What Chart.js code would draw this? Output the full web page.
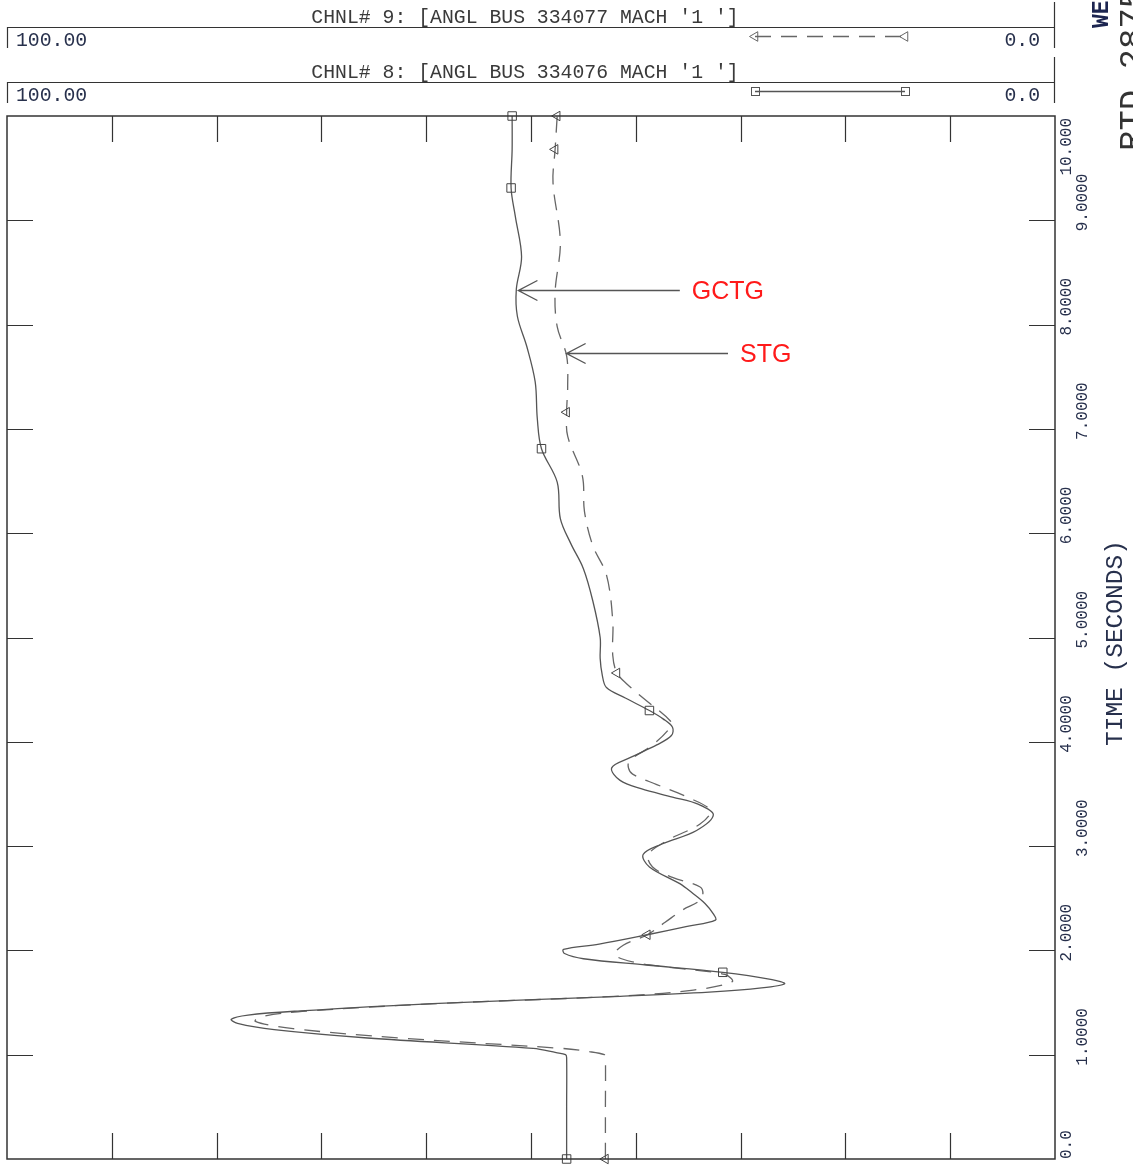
<!DOCTYPE html>
<html>
<head>
<meta charset="utf-8">
<title>ANGL BUS 334076 / 334077</title>
<script src="https://cdn.jsdelivr.net/npm/chart.js@4.4.1/dist/chart.umd.min.js"></script>
<style>
  html, body { margin: 0; padding: 0; background: #fff; }
  #wrap { width: 1133px; height: 1166px; }
</style>
</head>
<body>
<div id="wrap"><canvas id="anglChart" width="1133" height="1166"></canvas></div>
<script>
// Channel 8 - GCTG machine angle (solid, squares)
const gctgTime = [0, 0.5, 0.97, 1.0, 1.02, 1.06, 1.16, 1.24, 1.30, 1.34, 1.38, 1.42, 1.49, 1.56, 1.60, 1.64, 1.68, 1.72, 1.79, 1.86, 1.92, 1.97, 2.01, 2.06, 2.15, 2.23, 2.29, 2.35, 2.45, 2.55, 2.64, 2.80, 2.92, 3.02, 3.15, 3.30, 3.40, 3.47, 3.55, 3.63, 3.75, 3.85, 3.97, 4.06, 4.14, 4.22, 4.30, 4.42, 4.52, 4.64, 4.80, 5.00, 5.35, 5.66, 5.90, 6.14, 6.49, 6.81, 7.10, 7.45, 7.79, 8.08, 8.34, 8.65, 9.04, 9.31, 9.68, 10.0];
const gctgAngle = [46.6, 46.6, 46.6, 46.7, 47.6, 49.8, 65.6, 74.5, 78.0, 78.6, 77.0, 72.0, 59.4, 41.5, 33.0, 28.0, 25.8, 27.0, 31.7, 39.0, 45.0, 46.8, 46.9, 43.5, 38.9, 35.1, 32.4, 32.6, 33.4, 34.6, 35.8, 38.7, 39.3, 37.5, 34.2, 32.6, 34.0, 36.5, 39.5, 41.5, 42.3, 40.5, 38.0, 36.6, 36.5, 37.4, 38.7, 41.0, 42.8, 43.2, 43.4, 43.4, 44.1, 45.0, 46.2, 47.2, 47.5, 49.0, 49.4, 49.6, 50.4, 51.3, 51.4, 50.9, 51.5, 51.9, 51.8, 51.8];
const gctgMarks = [0, 1.79, 4.30, 6.81, 9.31, 10.0];

// Channel 9 - STG machine angle (dashed, triangles)
const stgTime = [0, 0.5, 0.97, 1.0, 1.03, 1.06, 1.16, 1.25, 1.32, 1.37, 1.42, 1.49, 1.56, 1.62, 1.70, 1.77, 1.84, 1.89, 1.96, 2.05, 2.15, 2.27, 2.39, 2.47, 2.54, 2.61, 2.70, 2.80, 2.92, 3.07, 3.21, 3.34, 3.47, 3.59, 3.69, 3.75, 3.82, 3.97, 4.14, 4.20, 4.42, 4.55, 4.66, 4.83, 5.16, 5.60, 5.88, 6.21, 6.55, 6.93, 7.16, 7.41, 7.70, 7.98, 8.31, 8.79, 9.36, 9.68, 10.0];
const stgAngle = [42.9, 42.9, 42.9, 43.0, 44.5, 47.0, 62.5, 72.7, 76.3, 75.5, 71.0, 59.0, 42.0, 34.5, 30.8, 31.5, 37.0, 40.3, 42.0, 41.2, 38.9, 37.2, 35.5, 34.0, 33.6, 33.9, 36.5, 38.4, 38.8, 36.7, 33.9, 32.9, 35.1, 38.0, 40.3, 40.7, 40.6, 38.4, 36.7, 36.7, 39.3, 40.8, 41.8, 42.2, 42.2, 42.8, 44.1, 44.9, 45.1, 46.5, 46.6, 46.5, 46.6, 47.5, 47.7, 47.2, 47.9, 47.7, 47.5];
const stgMarks = [0, 2.15, 4.66, 7.16, 9.68, 10.0];

// axes
const angleMin = 0, angleMax = 100;
const timeMin = 0, timeMax = 10;
const angleTicks = [10, 20, 30, 40, 50, 60, 70, 80, 90];
const timeTicks = [0, 1, 2, 3, 4, 5, 6, 7, 8, 9, 10];
const timeTickLabels = ['0.0', '1.0000', '2.0000', '3.0000', '4.0000', '5.0000', '6.0000', '7.0000', '8.0000', '9.0000', '10.000'];
const timeTitle = 'TIME (SECONDS)';

// channel headers (top panels)
const channelTitles = ["CHNL# 9: [ANGL BUS 334077 MACH '1 ']", "CHNL# 8: [ANGL BUS 334076 MACH '1 ']"];
const channelScaleMax = '100.00';
const channelScaleMin = '0.0';

// arrow callouts
const arrowLabels = ['GCTG', 'STG'];
const arrowTime = [8.33, 7.73];
const arrowTip = [51.2, 46.6];
const arrowTail = [35.8, 31.2];

const MONO = '"Liberation Mono", "DejaVu Sans Mono", monospace';
const TEXT_BLUE = '#27304c';

function toPoints(times, values) {
    return times.map((t, i) => ({ x: values[i], y: t }));
}
function markRadius(times, marks, r) {
    return times.map(t => marks.includes(t) ? r : 0);
}

function drawTriangle(ctx, x, y, r) {
    // pointing left
    ctx.beginPath();
    ctx.moveTo(x - r, y);
    ctx.lineTo(x + r * 0.5, y - r * 0.87);
    ctx.lineTo(x + r * 0.5, y + r * 0.87);
    ctx.closePath();
    ctx.stroke();
}

function rotText(ctx, text, x, y, font, color, baseline) {
    ctx.save();
    ctx.translate(x, y);
    ctx.rotate(-Math.PI / 2);
    ctx.font = font;
    ctx.fillStyle = color;
    ctx.textAlign = 'left';
    ctx.textBaseline = baseline || 'middle';
    ctx.fillText(text, 0, 0);
    ctx.restore();
}

const whiteBg = {
    id: 'whiteBg',
    beforeDraw(chart) {
        const ctx = chart.ctx;
        ctx.save();
        ctx.fillStyle = '#fff';
        ctx.fillRect(0, 0, chart.width, chart.height);
        ctx.restore();
    }
};

const pssFrame = {
    id: 'pssFrame',
    afterDraw(chart) {
        const ctx = chart.ctx;
        const a = chart.chartArea;
        const xs = chart.scales.x;
        const ys = chart.scales.y;
        ctx.save();

        // plot frame
        ctx.strokeStyle = '#333';
        ctx.lineWidth = 1.5;
        ctx.strokeRect(a.left, a.top, a.right - a.left, a.bottom - a.top);

        // inner ticks
        ctx.lineWidth = 1.2;
        ctx.beginPath();
        angleTicks.forEach(v => {
            const x = Math.round(xs.getPixelForValue(v)) + 0.5;
            ctx.moveTo(x, a.top); ctx.lineTo(x, a.top + 26);
            ctx.moveTo(x, a.bottom); ctx.lineTo(x, a.bottom - 26);
        });
        timeTicks.slice(1, -1).forEach(t => {
            const y = Math.round(ys.getPixelForValue(t)) + 0.5;
            ctx.moveTo(a.left, y); ctx.lineTo(a.left + 26, y);
            ctx.moveTo(a.right, y); ctx.lineTo(a.right - 26, y);
        });
        ctx.stroke();

        // time tick labels, rotated, staggered in two columns
        ctx.font = '16px ' + MONO;
        timeTicks.forEach((t, i) => {
            const label = timeTickLabels[i];
            const w = ctx.measureText(label).width;
            const y = ys.getPixelForValue(t);
            let bottom = Math.min(y + 11, a.bottom);
            if (bottom - w < a.top + 2) bottom = a.top + 2 + w;
            const x = (i % 2 === 0) ? a.right + 12 : a.right + 28;
            rotText(ctx, label, x, bottom, '16px ' + MONO, TEXT_BLUE);
        });
        rotText(ctx, timeTitle, a.right + 61, 746, '24.5px ' + MONO, TEXT_BLUE);

        // clipped page labels on the far right
        rotText(ctx, 'WECC', 1108, 28, 'bold 23px ' + MONO, '#1c2550', 'alphabetic');
        rotText(ctx, 'RTD 2875', 1142, 151, '34px ' + MONO, '#333', 'alphabetic');

        // channel header panels
        channelTitles.forEach((title, p) => {
            const off = p * 55;
            const ds = chart.data.datasets[p === 0 ? 1 : 0];
            ctx.strokeStyle = '#333';
            ctx.lineWidth = 1.2;
            ctx.setLineDash([]);
            ctx.beginPath();
            ctx.moveTo(a.left, 27.5 + off); ctx.lineTo(a.right, 27.5 + off);
            ctx.moveTo(a.left + 0.5, 27 + off); ctx.lineTo(a.left + 0.5, 48 + off);
            ctx.moveTo(a.right - 0.5, (p === 0 ? 2 : 57)); ctx.lineTo(a.right - 0.5, 48 + off);
            ctx.stroke();

            ctx.fillStyle = '#3a3a3a';
            ctx.font = '19.8px ' + MONO;
            ctx.textAlign = 'center';
            ctx.textBaseline = 'alphabetic';
            ctx.fillText(title, 525, 23 + off);

            ctx.fillStyle = TEXT_BLUE;
            ctx.textAlign = 'left';
            ctx.fillText(channelScaleMax, 16, 46 + off);
            ctx.textAlign = 'right';
            ctx.fillText(channelScaleMin, 1040, 46 + off);

            // legend sample
            const ly = 36.5 + off;
            ctx.strokeStyle = ds.borderColor;
            ctx.lineWidth = ds.borderWidth;
            ctx.setLineDash(ds.borderDash || []);
            ctx.beginPath();
            ctx.moveTo(755, ly); ctx.lineTo(905, ly);
            ctx.stroke();
            ctx.setLineDash([]);
            ctx.lineWidth = 1;
            if (ds.pointStyle === 'rect') {
                ctx.strokeRect(751.5, ly - 4, 8, 8);
                ctx.strokeRect(901.5, ly - 4, 8, 8);
            } else {
                drawTriangle(ctx, 755, ly, 5.5);
                drawTriangle(ctx, 905, ly, 5.5);
            }
        });

        // arrow callouts
        arrowLabels.forEach((label, i) => {
            const y = Math.round(ys.getPixelForValue(arrowTime[i])) + 0.5;
            const xt = xs.getPixelForValue(arrowTip[i]);
            const xe = xs.getPixelForValue(arrowTail[i]);
            ctx.strokeStyle = '#555';
            ctx.lineWidth = 1.4;
            ctx.beginPath();
            ctx.moveTo(xe, y); ctx.lineTo(xt, y);
            ctx.moveTo(xt + 19, y - 10); ctx.lineTo(xt, y); ctx.lineTo(xt + 19, y + 10);
            ctx.stroke();
            ctx.fillStyle = '#ff1a1a';
            ctx.font = '25px "Liberation Sans", Arial, sans-serif';
            ctx.textAlign = 'left';
            ctx.textBaseline = 'middle';
            ctx.fillText(label, xe + 12, y + 2);
        });

        ctx.restore();
    }
};

const canvas = document.getElementById('anglChart');
new Chart(canvas, {
    type: 'scatter',
    data: {
        datasets: [{
            label: 'GCTG',
            data: toPoints(gctgTime, gctgAngle),
            showLine: true,
            borderColor: '#555',
            borderWidth: 1.3,
            tension: 0.35,
            pointStyle: 'rect',
            pointRadius: markRadius(gctgTime, gctgMarks, 6),
            pointBorderColor: '#444',
            pointBorderWidth: 1,
            pointBackgroundColor: 'rgba(0,0,0,0)',
            clip: false
        }, {
            label: 'STG',
            data: toPoints(stgTime, stgAngle),
            showLine: true,
            borderColor: '#666',
            borderWidth: 1.3,
            borderDash: [16, 10],
            tension: 0.35,
            pointStyle: 'triangle',
            pointRotation: -90,
            pointRadius: markRadius(stgTime, stgMarks, 5.5),
            pointBorderColor: '#444',
            pointBorderWidth: 1,
            pointBackgroundColor: 'rgba(0,0,0,0)',
            clip: false
        }]
    },
    options: {
        responsive: false,
        animation: false,
        events: [],
        layout: { padding: { left: 7, top: 116, right: 78, bottom: 3 } },
        scales: {
            x: { type: 'linear', min: angleMin, max: angleMax, reverse: true, display: false },
            y: { type: 'linear', min: timeMin, max: timeMax, display: false }
        },
        plugins: {
            legend: { display: false },
            tooltip: { enabled: false },
            title: { display: false }
        }
    },
    plugins: [whiteBg, pssFrame]
});
</script>
</body>
</html>
